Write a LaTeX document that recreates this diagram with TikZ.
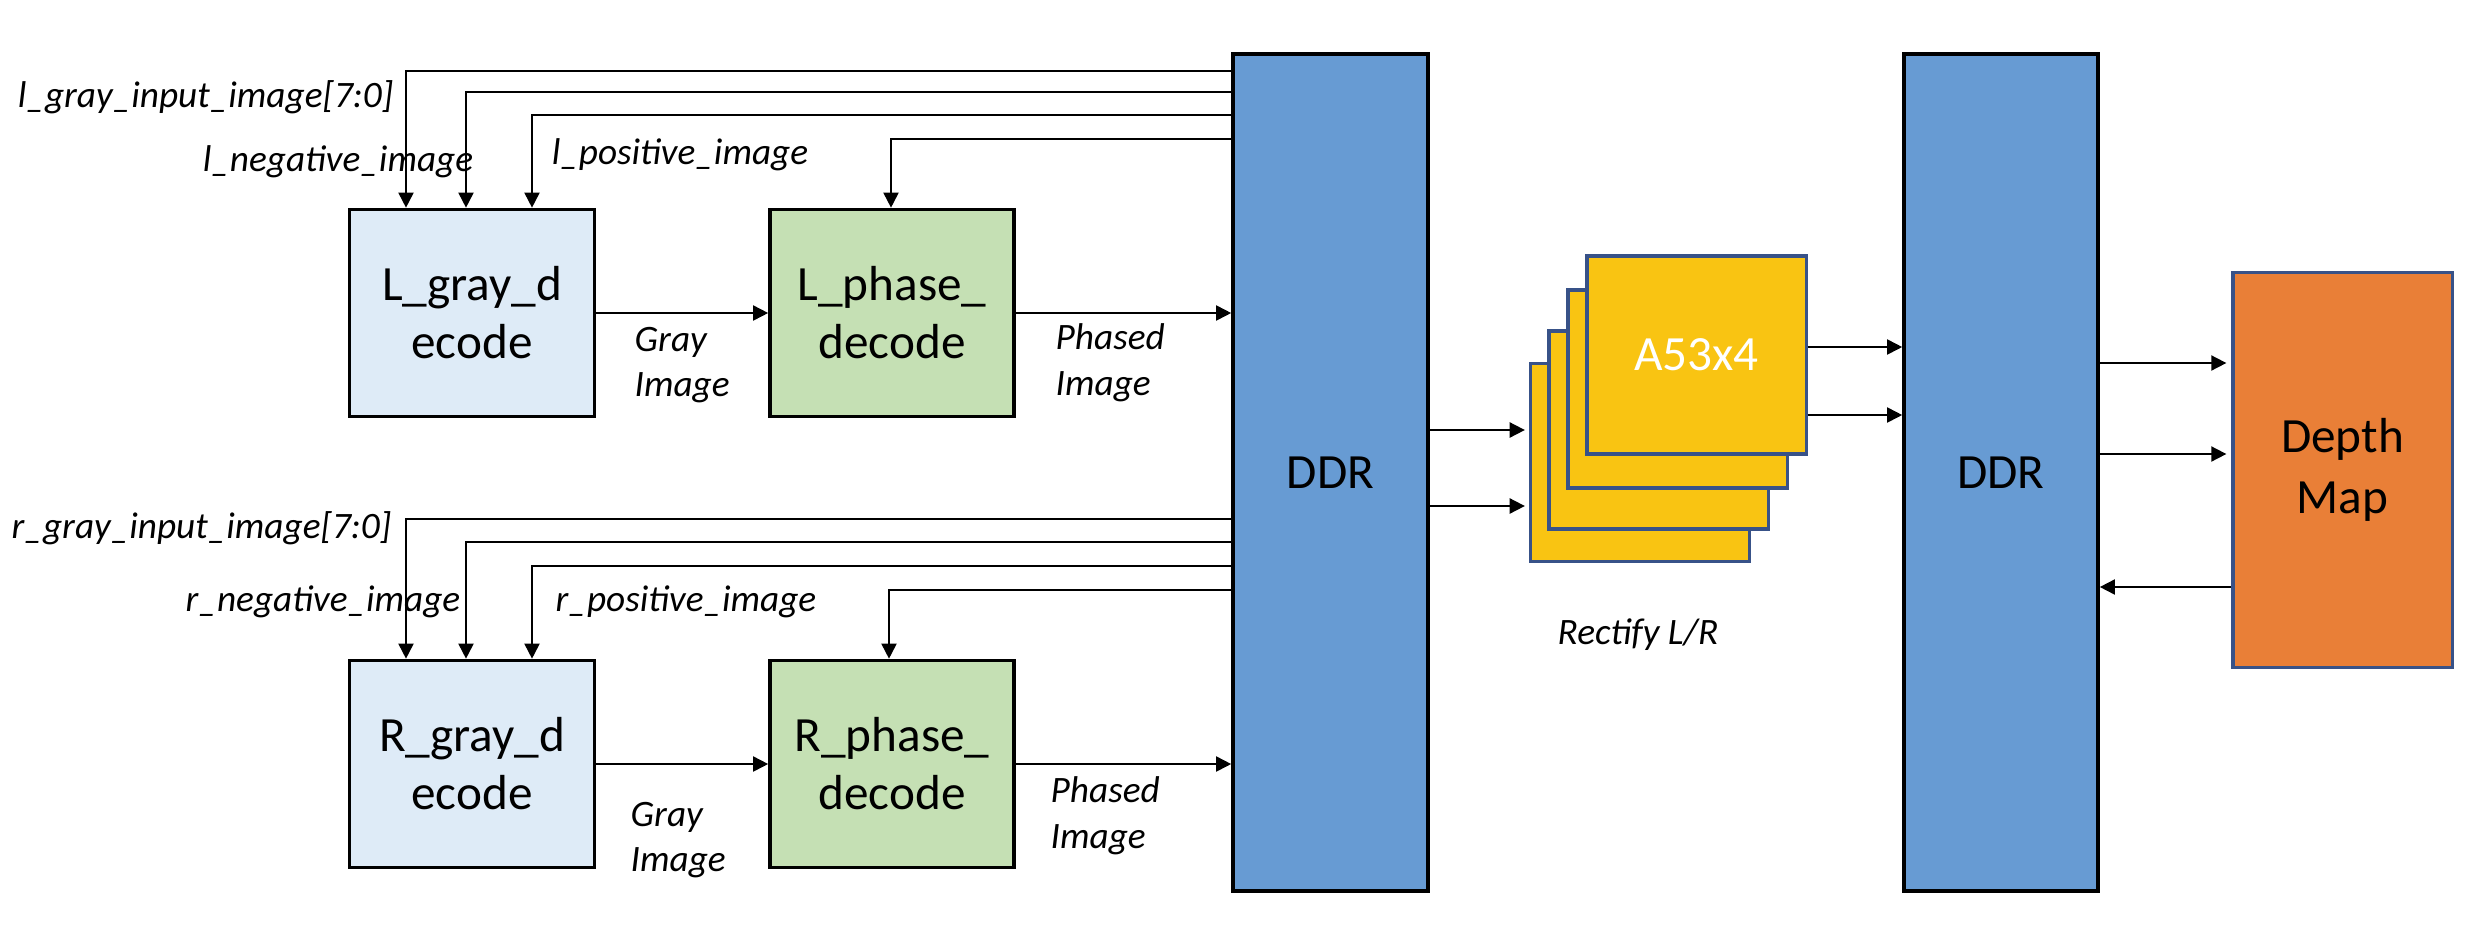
\documentclass[tikz,border=0pt]{standalone}
\usepackage{fontspec}
\setmainfont{Carlito}
\usetikzlibrary{arrows.meta}
\definecolor{ddrblue}{RGB}{103,155,211}
\definecolor{grayblue}{RGB}{222,235,247}
\definecolor{phasegreen}{RGB}{197,224,180}
\definecolor{agold}{RGB}{249,196,18}
\definecolor{dorange}{RGB}{233,127,55}
\definecolor{edgeblue}{RGB}{56,82,136}
\tikzset{
  blk/.style={draw, line width=1pt, inner sep=0pt, align=center,
    font=\fontsize{14}{16.5}\selectfont},
  core/.style={draw=edgeblue, fill=agold, line width=0.9pt, inner sep=0pt,
    minimum width=2.19cm, minimum height=1.98cm},
  lbl/.style={font=\itshape\fontsize{10.6}{13}\selectfont, inner sep=0pt, align=left},
  conn/.style={line width=0.5pt, -{Triangle[length=4.3pt,width=4.3pt]}},
}
\begin{document}
\begin{tikzpicture}[x=0.01cm,y=-0.01cm]
\useasboundingbox (0,0) rectangle (2469,930);

% main blocks
\node[blk, fill=grayblue, minimum width=2.45cm, minimum height=2.07cm] (lgray) at (472,313) {L\_gray\_d\\ecode};
\node[blk, fill=phasegreen, minimum width=2.44cm, minimum height=2.07cm] (lphase) at (892,313) {L\_phase\_\\decode};
\node[blk, fill=grayblue, minimum width=2.45cm, minimum height=2.07cm] (rgray) at (472,764) {R\_gray\_d\\ecode};
\node[blk, fill=phasegreen, minimum width=2.44cm, minimum height=2.07cm] (rphase) at (892,764) {R\_phase\_\\decode};
\node[blk, fill=ddrblue, minimum width=1.95cm, minimum height=8.37cm] (ddr1) at (1330.5,472.5) {DDR};
\node[blk, fill=ddrblue, minimum width=1.94cm, minimum height=8.37cm] (ddr2) at (2001,472.5) {DDR};
\node[blk, draw=edgeblue, line width=0.9pt, fill=dorange, minimum width=2.19cm, minimum height=3.94cm,
  font=\fontsize{14}{17.5}\selectfont] (depth) at (2342.5,470) {Depth\\Map};

% A53 stack (back to front)
\node[core] (a4) at (1640,462.5) {};
\node[core] (a3) at (1658.5,430) {};
\node[core] (a2) at (1677.5,389) {};
\node[core, text=white, font=\fontsize{14}{16}\selectfont] (a1) at (1696.5,355) {A53x4};

% labels
\node[lbl, anchor=east] (lgin) at (394,97) {l\_gray\_input\_image[7:0]};
\node[lbl] (lneg) at (338,162) {l\_negative\_image};
\node[lbl] (lpos) at (680,155) {l\_positive\_image};
\node[lbl, anchor=west] (lgi) at (634,365) {Gray\\Image};
\node[lbl, anchor=west] (lpi) at (1055,363) {Phased\\Image};
\node[lbl, anchor=east] (rgin) at (392,528) {r\_gray\_input\_image[7:0]};
\node[lbl] (rneg) at (323,602) {r\_negative\_image};
\node[lbl] (rpos) at (686,602) {r\_positive\_image};
\node[lbl, anchor=west] (rgi) at (630,840) {Gray\\Image};
\node[lbl, anchor=west] (rpi) at (1050,816) {Phased\\Image};
\node[lbl] (rect) at (1638,635) {Rectify L/R};

% left channel feeds
\draw[conn] (ddr1.west |- 0,71) -| (406,0 |- lgray.north);
\draw[conn] (ddr1.west |- 0,92) -| (466,0 |- lgray.north);
\draw[conn] (ddr1.west |- 0,115) -| (532,0 |- lgray.north);
\draw[conn] (ddr1.west |- 0,139) -| (891,0 |- lphase.north);
\draw[conn] (lgray.east) -- (lphase.west);
\draw[conn] (lphase.east) -- (ddr1.west |- lphase.east);

% right channel feeds
\draw[conn] (ddr1.west |- 0,519) -| (406,0 |- rgray.north);
\draw[conn] (ddr1.west |- 0,542) -| (466,0 |- rgray.north);
\draw[conn] (ddr1.west |- 0,566) -| (532,0 |- rgray.north);
\draw[conn] (ddr1.west |- 0,590) -| (889,0 |- rphase.north);
\draw[conn] (rgray.east) -- (rphase.west);
\draw[conn] (rphase.east) -- (ddr1.west |- rphase.east);

% DDR1 -> A53
\draw[conn, shorten >=0.04cm] (ddr1.east |- 0,430) -- (a4.west |- 0,430);
\draw[conn, shorten >=0.04cm] (ddr1.east |- 0,506) -- (a4.west |- 0,506);
% A53 -> DDR2
\draw[conn] (a1.east |- 0,347) -- (ddr2.west |- 0,347);
\draw[conn] (a1.east |- 0,415) -- (ddr2.west |- 0,415);
% DDR2 <-> Depth
\draw[conn, shorten >=0.05cm] (ddr2.east |- 0,363) -- (depth.west |- 0,363);
\draw[conn, shorten >=0.05cm] (ddr2.east |- 0,454) -- (depth.west |- 0,454);
\draw[conn] (depth.west |- 0,587) -- (ddr2.east |- 0,587);
\end{tikzpicture}
\end{document}
